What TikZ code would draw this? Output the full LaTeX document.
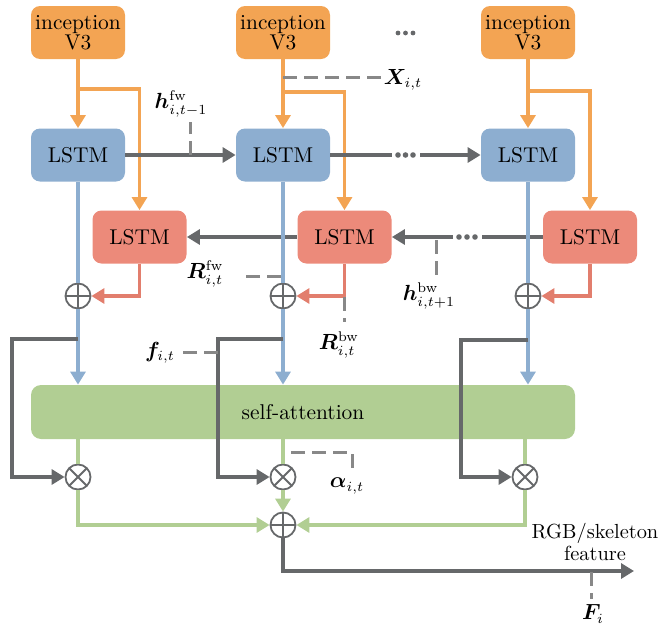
\documentclass[tikz,border=0pt]{standalone}
\usepackage{amsmath,bm}
\usetikzlibrary{arrows.meta}

\definecolor{incol}{HTML}{F3A453}
\definecolor{fwcol}{HTML}{8DAED0}
\definecolor{bwcol}{HTML}{EC8A7A}
\definecolor{bwline}{HTML}{E27E6D}
\definecolor{attcol}{HTML}{B1CE93}
\definecolor{linegray}{HTML}{66686A}
\definecolor{dashgray}{HTML}{888888}

\begin{document}
\begin{tikzpicture}[x=0.5pt,y=-0.5pt,
  >={Triangle[length=6.5pt,width=7.5pt]},
  box/.style={rounded corners=4.5pt, minimum width=47pt, minimum height=26.5pt,
    inner sep=0pt, align=center, text=black},
  inbox/.style={box, fill=incol, font=\fontsize{10.7}{10}\selectfont},
  fwbox/.style={box, fill=fwcol, font=\fontsize{10.7}{10}\selectfont},
  bwbox/.style={box, fill=bwcol, font=\fontsize{10.7}{10}\selectfont},
  attbox/.style={rounded corners=5pt, fill=attcol, minimum width=272pt,
    minimum height=27pt, inner sep=0pt, font=\fontsize{10.7}{12}\selectfont},
  op/.style={circle, draw=linegray, line width=0.9pt, fill=white,
    minimum size=12.5pt, inner sep=0pt},
  opplus/.style={op, path picture={
    \draw[linegray, line width=0.9pt]
      (path picture bounding box.north) -- (path picture bounding box.south)
      (path picture bounding box.west) -- (path picture bounding box.east);}},
  optimes/.style={op, path picture={
    \draw[linegray, line width=0.9pt]
      ([shift={(45:6.5pt)}]path picture bounding box.center) --
      ([shift={(225:6.5pt)}]path picture bounding box.center)
      ([shift={(135:6.5pt)}]path picture bounding box.center) --
      ([shift={(315:6.5pt)}]path picture bounding box.center);}},
  orangeline/.style={draw=incol, line width=1.6pt},
  blueline/.style={draw=fwcol, line width=1.6pt},
  redline/.style={draw=bwline, line width=1.6pt},
  greenline/.style={draw=attcol, line width=1.6pt},
  grayline/.style={draw=linegray, line width=1.9pt},
  dashline/.style={draw=dashgray, line width=1.5pt, dash pattern=on 7pt off 3.5pt},
  lab/.style={inner sep=0pt, font=\fontsize{10.7}{12}\selectfont},
  dotmark/.style={fill=linegray}
]
\useasboundingbox (0,0) rectangle (660,627);

% feature extractors
\node[inbox] (in1) at (78,32.5) {inception\\V3};
\node[inbox] (in2) at (283,32.5) {inception\\V3};
\node[inbox] (in3) at (528,32.5) {inception\\V3};

% forward LSTMs
\node[fwbox] (f1) at (78,155) {LSTM};
\node[fwbox] (f2) at (283,155) {LSTM};
\node[fwbox] (f3) at (528,155) {LSTM};

% backward LSTMs
\node[bwbox] (b1) at (139.5,237) {LSTM};
\node[bwbox] (b2) at (344.5,237) {LSTM};
\node[bwbox] (b3) at (590,237) {LSTM};

% attention block
\node[attbox] (sa) at (303,412) {self-attention};

% operators
\node[opplus] (p1) at (78,296) {};
\node[opplus] (p2) at (283,296) {};
\node[opplus] (p3) at (528,296) {};
\node[optimes] (m1) at (78,477) {};
\node[optimes] (m2) at (283,477) {};
\node[optimes] (m3) at (525,477) {};
\node[opplus] (s) at (283,525) {};

% top ellipsis
\fill[dotmark] (398,33) circle (1.2pt) (405.5,33) circle (1.2pt) (413,33) circle (1.2pt);

% inputs to both directions
\coordinate (o1) at (78,89);
\coordinate (o2) at (283,92);
\coordinate (o3) at (528,91);
\draw[orangeline,->] (in1.south) -- (f1.north);
\draw[orangeline,->] (o1) -- (o1 -| b1.north) -- (b1.north);
\draw[orangeline,->] (in2.south) -- (f2.north);
\draw[orangeline,->] (o2) -- (o2 -| b2.north) -- (b2.north);
\draw[orangeline,->] (in3.south) -- (f3.north);
\draw[orangeline,->] (o3) -- (o3 -| b3.north) -- (b3.north);

% forward recurrence
\coordinate (fd1) at (392,155);
\coordinate (fd2) at (420,155);
\draw[grayline,->] (f1.east) -- (f2.west);
\draw[grayline] (f2.east) -- (fd1);
\fill[dotmark] (398,155) circle (1.4pt) (405.5,155) circle (1.4pt) (413,155) circle (1.4pt);
\draw[grayline,->] (fd2) -- (f3.west);

% backward recurrence
\coordinate (bd1) at (482,237);
\coordinate (bd2) at (453,237);
\draw[grayline,->] (b2.west) -- (b1.east);
\draw[grayline] (b3.west) -- (bd1);
\fill[dotmark] (475,237) circle (1.4pt) (467,237) circle (1.4pt) (459,237) circle (1.4pt);
\draw[grayline,->] (bd2) -- (b2.east);

% forward outputs into the attention block
\draw[blueline] (f1.south) -- (p1.north);
\draw[blueline,->] (p1.south) -- (p1.south |- sa.north);
\draw[blueline] (f2.south) -- (p2.north);
\draw[blueline,->] (p2.south) -- (p2.south |- sa.north);
\draw[blueline] (f3.south) -- (p3.north);
\draw[blueline,->] (p3.south) -- (p3.south |- sa.north);

% backward outputs into the sums
\draw[redline,->] (b1.south) |- (p1.east);
\draw[redline,->] (b2.south) |- (p2.east);
\draw[redline,->] (b3.south) |- (p3.east);

% skip connections to the weighting
\coordinate (g1) at (78,339);
\coordinate (g2) at (283,339);
\coordinate (g3) at (528,340);
\draw[grayline,->] (g1) -- ++(-66,0) |- (m1.west);
\draw[grayline,->] (g2) -- ++(-65,0) |- (m2.west);
\draw[grayline,->] (g3) -- ++(-67,0) |- (m3.west);

% attention weights and weighted sum
\draw[greenline] (m1.north |- sa.south) -- (m1.north);
\draw[greenline,->] (m1.south) |- (s.west);
\draw[greenline] (m2.north |- sa.south) -- (m2.north);
\draw[greenline,->] (m2.south) -- (s.north);
\draw[greenline] (m3.north |- sa.south) -- (m3.north);
\draw[greenline,->] (m3.south) |- (s.east);

% output
\coordinate (out) at (634,571);
\draw[grayline,->] (s.south) |- (out);
\node[inner sep=0pt, align=center, font=\fontsize{10.2}{9.5}\selectfont] (rgb) at (595,542) {RGB/skeleton\\feature};

% annotations
\node[lab] (xl) at (403,80) {$\boldsymbol{X}_{i,t}$};
\coordinate (xa) at (283,77);
\coordinate (xb) at (384,77);
\draw[dashline] (xa) -- (xb);

\node[lab] (hfl) at (181,104) {$\boldsymbol{h}^{\mathrm{fw}}_{i,t-1}$};
\coordinate (hfa) at (190,155);
\coordinate (hfb) at (190,122);
\draw[dashline] (hfa) -- (hfb);

\node[lab] (rfl) at (205,274) {$\boldsymbol{R}^{\mathrm{fw}}_{i,t}$};
\coordinate (rfa) at (281,276);
\coordinate (rfb) at (241,276);
\draw[dashline] (rfa) -- (rfb);

\node[lab] (rbl) at (339,345) {$\boldsymbol{R}^{\mathrm{bw}}_{i,t}$};
\coordinate (rba) at (344,297);
\coordinate (rbb) at (344,322);
\draw[dashline] (rba) -- (rbb);

\node[lab] (hbl) at (429,296) {$\boldsymbol{h}^{\mathrm{bw}}_{i,t+1}$};
\coordinate (hba) at (436,240);
\coordinate (hbb) at (436,275);
\draw[dashline] (hba) -- (hbb);

\node[lab] (fl) at (160,353) {$\boldsymbol{f}_{i,t}$};
\coordinate (fa) at (218,352);
\coordinate (fb) at (179,352);
\draw[dashline] (fa) -- (fb);

\node[lab] (al) at (347,486) {$\boldsymbol{\alpha}_{i,t}$};
\coordinate (aa) at (291,452);
\coordinate (ab) at (352,452);
\coordinate (ac) at (352,474);
\draw[dashline] (aa) -- (ab) -- (ac);

\node[lab] (Fl) at (593,614) {$\boldsymbol{F}_{i}$};
\coordinate (Fa) at (591,572);
\coordinate (Fb) at (591,599);
\draw[dashline] (Fa) -- (Fb);
\end{tikzpicture}
\end{document}
